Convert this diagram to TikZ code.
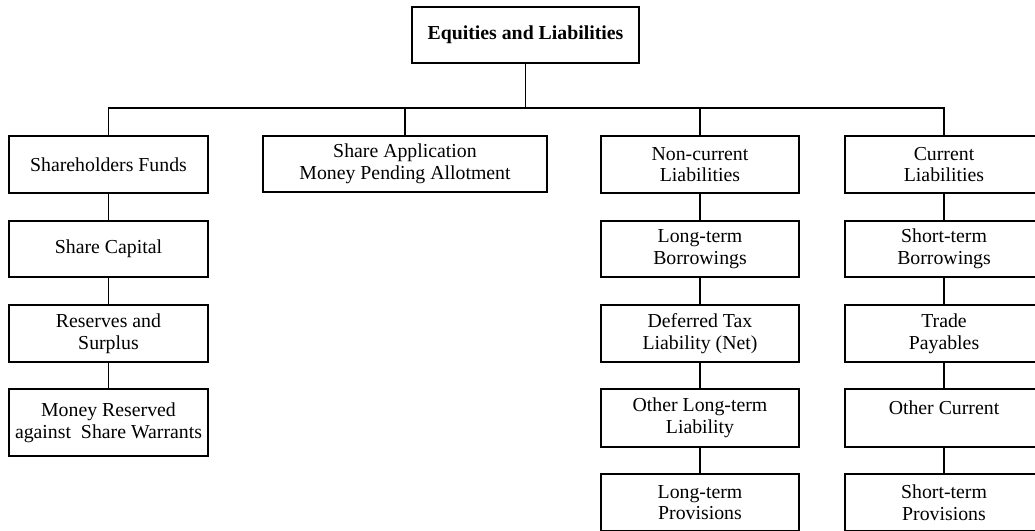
\documentclass[tikz,border=0pt]{standalone}
\usepackage{fontspec}
\setmainfont{Liberation Serif}
\begin{document}
\begin{tikzpicture}[x=1pt,y=-1pt,
  box/.style={draw, line width=1.5pt, inner sep=0pt, align=center,
    minimum width=198pt, minimum height=57pt,
    font=\fontsize{19.8}{21.7}\selectfont},
  link/.style={line width=1.5pt}]
\clip (0,0) rectangle (1035,530);
\fill[white] (0,0) rectangle (1035,530);
% top
\node[box, minimum width=227pt, minimum height=56pt, font=\fontsize{19.8}{21.7}\selectfont\bfseries] (top) at (525.5,35) {Equities and Liabilities};
\coordinate (bus) at (0,108);
% column 1
\node[box, minimum width=199pt] (sf) at (108.5,164.5) {Shareholders Funds};
\node[box, minimum width=199pt, minimum height=56pt] (sc) at (108.5,249) {Share Capital};
\node[box, minimum width=199pt] (rs) at (108.5,333.5) {Reserves and\\Surplus};
\node[box, minimum width=199pt, minimum height=67pt] (mr) at (108.5,422.5) {Money Reserved\\against~ Share Warrants};
% column 2
\node[box, minimum width=284pt, minimum height=56pt] (sa) at (405,164) {Share Application\\Money Pending Allotment};
% column 3
\node[box] (ncl) at (700,164.5) {Non-current\\Liabilities};
\node[box, minimum height=56pt] (ltb) at (700,249) {Long-term\\Borrowings};
\node[box] (dtl) at (700,333.5) {Deferred Tax\\Liability (Net)};
\node[box, minimum height=58pt] (olt) at (700,418) {Other Long-term\\Liability};
\node[box] (ltp) at (700,502.5) {Long-term\\Provisions};
% column 4
\node[box] (cl) at (944,164.5) {Current\\Liabilities};
\node[box, minimum height=56pt] (stb) at (944,249) {Short-term\\Borrowings};
\node[box] (tp) at (944,333.5) {Trade\\Payables};
\node[box, minimum height=58pt] (oc) at (944,418) {Other Current\\~};
\node[box] (stp) at (944,502.5) {Short-term\\Provisions};
% connectors
\draw[link] (top.south) -- (top.south |- bus);
\draw[link] (sf.north) -- (sf.north |- bus) -- (cl.north |- bus) -- (cl.north);
\draw[link] (sa.north) -- (sa.north |- bus);
\draw[link] (ncl.north) -- (ncl.north |- bus);
\draw[link] (sf) -- (sc);
\draw[link] (sc) -- (rs);
\draw[link] (rs) -- (mr);
\draw[link] (ncl) -- (ltb);
\draw[link] (ltb) -- (dtl);
\draw[link] (dtl) -- (olt);
\draw[link] (olt) -- (ltp);
\draw[link] (cl) -- (stb);
\draw[link] (stb) -- (tp);
\draw[link] (tp) -- (oc);
\draw[link] (oc) -- (stp);
\end{tikzpicture}
\end{document}
